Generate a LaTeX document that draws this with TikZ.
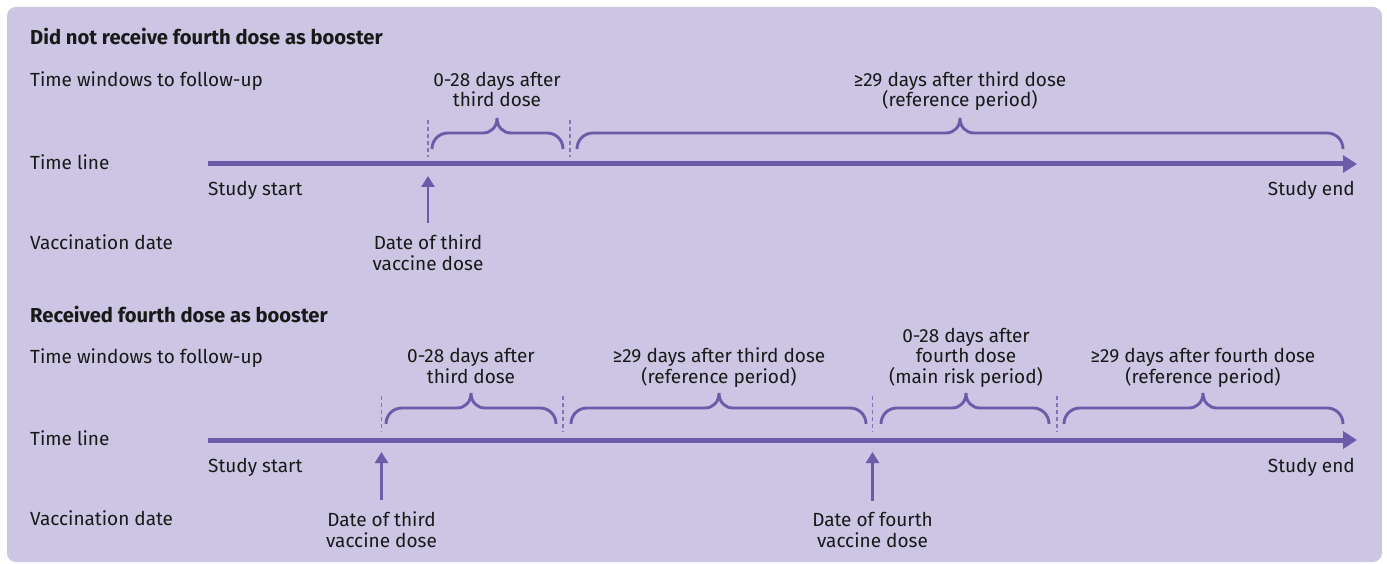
\documentclass[tikz,border=0pt]{standalone}
\usepackage{fontspec}
\setmainfont{Fira Sans}
\usetikzlibrary{arrows.meta}
\definecolor{bgc}{RGB}{204,197,227}
\definecolor{lc}{RGB}{108,91,168}
\definecolor{txt}{RGB}{25,25,25}
\newcommand{\mybrace}[4]{%
  \draw[brc] (#1,#4) .. controls (#1,#4-9) and (#1+7,#4-16) .. (#1+16,#4-16)
    -- (#3-14,#4-16) .. controls (#3-6,#4-16) and (#3,#4-22) .. (#3,#4-31)
    .. controls (#3,#4-22) and (#3+6,#4-16) .. (#3+14,#4-16)
    -- (#2-16,#4-16) .. controls (#2-7,#4-16) and (#2,#4-9) .. (#2,#4);}
\begin{document}
\begin{tikzpicture}[x=1pt,y=-1pt,
  every node/.style={font=\fontsize{19}{20.5}\selectfont, inner sep=0pt, text=txt},
  lbl/.style={anchor=base west},
  ttl/.style={anchor=base west, font=\fontsize{20.2}{21}\selectfont\bfseries},
  win/.style={align=center, anchor=base},
  tl/.style={line width=5pt, draw=lc, -{Triangle[length=14pt,width=17pt]}},
  va/.style={line width=2.5pt, draw=lc, -{Triangle[length=11pt,width=13pt]}},
  sep/.style={draw=lc!85, line width=1.2pt, dash pattern=on 4pt off 3pt},
  brc/.style={draw=lc, line width=2.9pt}]
\useasboundingbox (0,0) rectangle (1387,564);
\fill[white] (0,0) rectangle (1387,564);
\fill[bgc, rounded corners=9pt] (7,7) rectangle (1382,562);

% ---------- Section 1 ----------
\node[ttl] (t1) at (30,45) {Did not receive fourth dose as booster};
\node[lbl] (w1) at (30,87) {Time windows to follow-up};
\node[lbl] (l1) at (30,170) {Time line};
\node[lbl] (v1) at (30,250) {Vaccination date};

\coordinate (s1) at (208,164);
\coordinate (e1) at (1357,164);
\draw[tl] (s1) -- (e1);
\node[lbl] (ss1) at (208,196) {Study start};
\node[anchor=base east] (se1) at (1355,196) {Study end};

\draw[sep] (428,120) -- (428,157);
\draw[sep] (570,120) -- (570,157);
\mybrace{432}{563}{497}{149}
\mybrace{577}{1343}{960}{149}
\node[win] (a1) at (497,107) {0-28 days after\\third dose};
\node[win] (b1) at (960,107) {≥29 days after third dose\\(reference period)};

\node[win] (d31) at (428,270) {Date of third\\vaccine dose};
\coordinate (p31) at (428,176);
\draw[va, shorten <=11pt] (d31.north) -- (p31);

% ---------- Section 2 ----------
\node[ttl] (t2) at (30,322) {Received fourth dose as booster};
\node[lbl] (w2) at (30,363) {Time windows to follow-up};
\node[lbl] (l2) at (30,445) {Time line};
\node[lbl] (v2) at (30,525) {Vaccination date};

\coordinate (s2) at (208,440);
\coordinate (e2) at (1357,440);
\draw[tl] (s2) -- (e2);
\node[lbl] (ss2) at (208,472) {Study start};
\node[anchor=base east] (se2) at (1355,472) {Study end};

\draw[sep] (381.5,396) -- (381.5,432);
\draw[sep] (563,396) -- (563,432);
\draw[sep] (872.5,396) -- (872.5,432);
\draw[sep] (1057,396) -- (1057,432);
\mybrace{386}{556}{471}{424}
\mybrace{571}{866}{719}{424}
\mybrace{881}{1049}{966}{424}
\mybrace{1064}{1343}{1203}{424}
\node[win] (a2) at (471,383) {0-28 days after\\third dose};
\node[win] (b2) at (719,383) {≥29 days after third dose\\(reference period)};
\node[win] (c2) at (966,383) {0-28 days after\\fourth dose\\(main risk period)};
\node[win] (f2) at (1203,383) {≥29 days after fourth dose\\(reference period)};

\node[win] (d32) at (381.5,547) {Date of third\\vaccine dose};
\coordinate (p32) at (381.5,452);
\draw[va, shorten <=11pt] (d32.north) -- (p32);
\node[win] (d42) at (872.5,547) {Date of fourth\\vaccine dose};
\coordinate (p42) at (872.5,452);
\draw[va, shorten <=11pt] (d42.north) -- (p42);
\end{tikzpicture}
\end{document}
